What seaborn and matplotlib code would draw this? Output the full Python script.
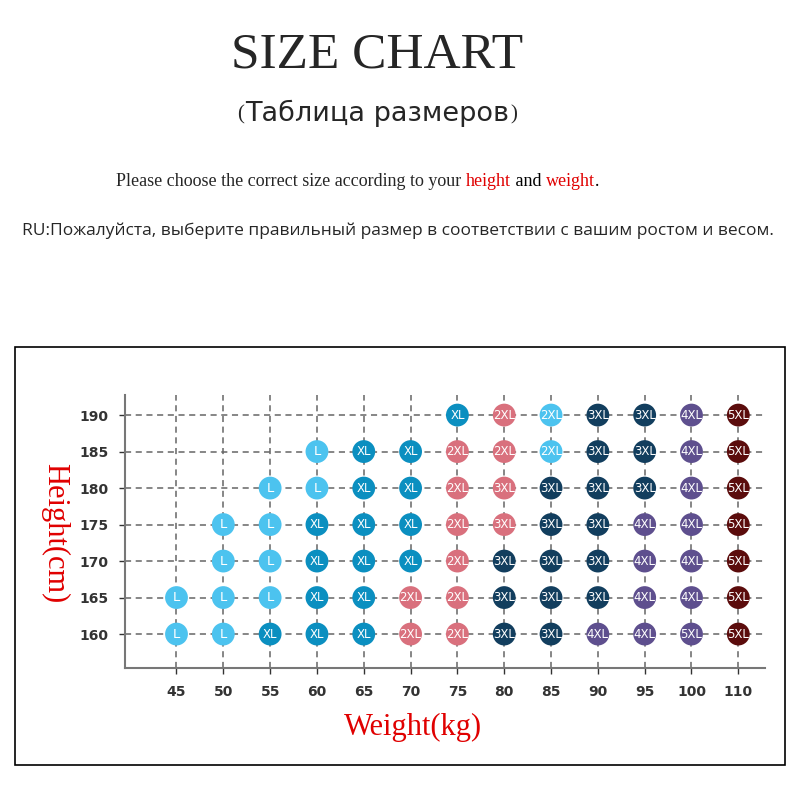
import matplotlib
matplotlib.use("Agg")
import matplotlib.pyplot as plt
import matplotlib.patches as mpatches
import seaborn as sns
import pandas as pd

sns.set_theme(style="white")
plt.rcParams['font.family'] = ['DejaVu Sans']

# data
weights = ['45', '50', '55', '60', '65', '70', '75', '80', '85', '90', '95', '100', '110']
heights = ['160', '165', '170', '175', '180', '185', '190']
# size labels per height row (from 160 up), '' = no dot
size_rows = [
    ['L', 'L', 'XL', 'XL', 'XL', '2XL', '2XL', '3XL', '3XL', '4XL', '4XL', '5XL', '5XL'],
    ['L', 'L', 'L', 'XL', 'XL', '2XL', '2XL', '3XL', '3XL', '3XL', '4XL', '4XL', '5XL'],
    ['', 'L', 'L', 'XL', 'XL', 'XL', '2XL', '3XL', '3XL', '3XL', '4XL', '4XL', '5XL'],
    ['', 'L', 'L', 'XL', 'XL', 'XL', '2XL', '3XL', '3XL', '3XL', '4XL', '4XL', '5XL'],
    ['', '', 'L', 'L', 'XL', 'XL', '2XL', '3XL', '3XL', '3XL', '3XL', '4XL', '5XL'],
    ['', '', '', 'L', 'XL', 'XL', '2XL', '2XL', '2XL', '3XL', '3XL', '4XL', '5XL'],
    ['', '', '', '', '', '', 'XL', '2XL', '2XL', '3XL', '3XL', '4XL', '5XL'],
]
# colour key per dot (mostly follows the label, some exceptions)
color_rows = [
    ['a', 'a', 'b', 'b', 'b', 'c', 'c', 'd', 'd', 'e', 'e', 'e', 'f'],
    ['a', 'a', 'a', 'b', 'b', 'c', 'c', 'd', 'd', 'd', 'e', 'e', 'f'],
    ['', 'a', 'a', 'b', 'b', 'b', 'c', 'd', 'd', 'd', 'e', 'e', 'f'],
    ['', 'a', 'a', 'b', 'b', 'b', 'c', 'c', 'd', 'd', 'e', 'e', 'f'],
    ['', '', 'a', 'a', 'b', 'b', 'c', 'c', 'd', 'd', 'd', 'e', 'f'],
    ['', '', '', 'a', 'b', 'b', 'c', 'c', 'a', 'd', 'd', 'e', 'f'],
    ['', '', '', '', '', '', 'b', 'c', 'a', 'd', 'd', 'e', 'f'],
]
palette = {'a': '#4cc3ef', 'b': '#0b8fc0', 'c': '#d9707d', 'd': '#123e5e',
           'e': '#5e4f8e', 'f': '#5b0c0c'}

recs = []
for hi, h in enumerate(heights):
    for wi, w in enumerate(weights):
        if size_rows[hi][wi]:
            recs.append(dict(x=wi, y=hi, size=size_rows[hi][wi], key=color_rows[hi][wi]))
df = pd.DataFrame(recs)

fig = plt.figure(figsize=(8, 8), dpi=100)
fig.patches.append(mpatches.Rectangle((15 / 800, 1 - 765 / 800), 770 / 800, 418 / 800,
                                      transform=fig.transFigure, fill=False,
                                      edgecolor='black', linewidth=1.2))

ax = fig.add_axes([125 / 800, 1 - 668 / 800, 640 / 800, 273 / 800])
for i in range(len(weights)):
    ax.axvline(i, color='#666666', ls=(0, (4, 3)), lw=1.1, zorder=0)
for j in range(len(heights)):
    ax.axhline(j, color='#666666', ls=(0, (4, 3)), lw=1.1, zorder=0)
sns.scatterplot(data=df, x='x', y='y', hue='key', palette=palette, s=270,
                edgecolor='none', legend=False, ax=ax, zorder=3)
for r in df.itertuples():
    ax.text(r.x, r.y, r.size, ha='center', va='center', color='white',
            fontsize=8.5 if len(r.size) > 1 else 9.5, zorder=4)

ax.set_xlim(-1.1, 12.57)
ax.set_ylim(-0.93, 6.55)
ax.set_xticks(range(len(weights)))
ax.set_xticklabels(weights)
ax.set_yticks(range(len(heights)))
ax.set_yticklabels(heights)
ax.set_xlabel('')
ax.set_ylabel('')
ax.tick_params(axis='both', labelsize=10, colors='#333333', length=4, width=1,
               bottom=True, left=True, pad=8)
for lab in ax.get_xticklabels() + ax.get_yticklabels():
    lab.set_fontweight('bold')
for s in ['top', 'right']:
    ax.spines[s].set_visible(False)
for s in ['left', 'bottom']:
    ax.spines[s].set_color('#777777')
    ax.spines[s].set_linewidth(1.5)

serif = 'Liberation Serif'
fig.text(377 / 800, 1 - 55 / 800, 'SIZE CHART', ha='center', va='center',
         family=serif, fontsize=37)
fig.text(237 / 800, 1 - 115 / 800, '(', ha='left', va='center', family=serif, fontsize=15)
ru = fig.text(245 / 800, 1 - 113 / 800, 'Таблица размеров', ha='left', va='center', fontsize=19.5)
fig.canvas.draw()
fig.text(ru.get_window_extent().x1 / 800 + 0.002, 1 - 115 / 800, ')', ha='left', va='center',
         family=serif, fontsize=15)

y3 = 1 - 181 / 800
t = fig.text(116 / 800, y3, 'Please choose the correct size according to your ', ha='left',
             va='center', family=serif, fontsize=13)
fig.canvas.draw()
x = t.get_window_extent().x1 / 800
for word, col in [('height', '#e00000'), (' and ', 'black'), ('weight', '#e00000'), ('.', 'black')]:
    tt = fig.text(x, y3, word, ha='left', va='center', family=serif, fontsize=13, color=col)
    fig.canvas.draw()
    x = tt.get_window_extent().x1 / 800

fig.text(22 / 800, 1 - 231 / 800,
         'RU:Пожалуйста, выберите правильный размер в соответствии с вашим ростом и весом.',
         ha='left', va='center', family='Open Sans', fontsize=12.5)

fig.text(55 / 800, 1 - 533 / 800, 'Height(cm)', rotation=-90, ha='center', va='center',
         family=serif, fontsize=22, color='#e00000')
fig.text(413 / 800, 1 - 727 / 800, 'Weight(kg)', ha='center', va='center',
         family=serif, fontsize=22, color='#e00000')

fig.savefig('out.png', dpi=100)
